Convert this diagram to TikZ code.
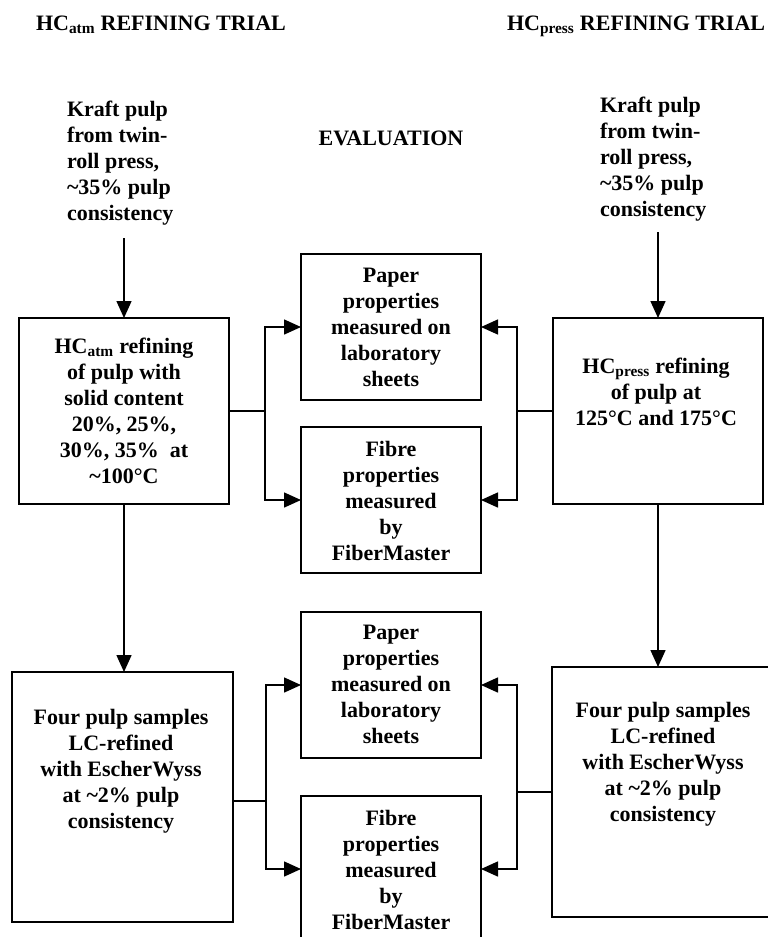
\documentclass[tikz,border=0pt]{standalone}
\usepackage{fontspec}
\setmainfont{Liberation Serif}
\usetikzlibrary{arrows.meta,calc}
\tikzset{
  box/.style={draw, line width=1.5pt, rectangle, inner sep=0pt, outer sep=0pt},
  txt/.style={font=\fontsize{22}{26}\selectfont\bfseries, inner sep=0pt, outer sep=0pt},
  ctxt/.style={txt, align=center, anchor=north},
  arr/.style={line width=1.5pt, -{Triangle[length=17pt,width=15pt]}}
}
\begin{document}
\begin{tikzpicture}[x=1pt,y=-1pt]
\useasboundingbox (0,0) rectangle (768,937);
\clip (0,0) rectangle (768,937);
% headers
\node[txt, anchor=base west] (hL) at (36,30) {HC\textsubscript{atm} REFINING TRIAL};
\node[txt, anchor=base west] (hR) at (507,30) {HC\textsubscript{press} REFINING TRIAL};
\node[txt, anchor=base] (ev) at (391,145) {EVALUATION};
% inputs
\node[txt, align=left, anchor=north west] (kL) at (67,101) {Kraft pulp\\from twin-\\roll press,\\\textasciitilde35\% pulp\\consistency};
\node[txt, align=left, anchor=north west] (kR) at (600,97) {Kraft pulp\\from twin-\\roll press,\\\textasciitilde35\% pulp\\consistency};
% boxes
\node[box, minimum width=210pt, minimum height=186pt] (tL) at (124,411) {};
\node[box, minimum width=210pt, minimum height=186pt] (tR) at (658,411) {};
\node[box, minimum width=180pt, minimum height=146pt] (pT) at (391,327) {};
\node[box, minimum width=180pt, minimum height=146pt] (fT) at (391,500) {};
\node[box, minimum width=180pt, minimum height=146pt] (pB) at (391,685) {};
\node[box, minimum width=180pt, minimum height=146pt] (fB) at (391,869) {};
\node[box, minimum width=221pt, minimum height=250pt] (bL) at (122.5,797) {};
\node[box, minimum width=228pt, minimum height=250pt] (bR) at (666,792) {};
% box texts
\node[ctxt] (tLt) at (124,338) {HC\textsubscript{atm} refining\\of pulp with\\solid content\\20\%, 25\%,\\30\%, 35\%\ \ at\\\textasciitilde100°C};
\node[ctxt] (tRt) at (656,358) {HC\textsubscript{press} refining\\of pulp at\\125°C and 175°C};
\node[ctxt] (pTt) at (391,268) {Paper\\properties\\measured on\\laboratory\\sheets};
\node[ctxt] (fTt) at (391,441) {Fibre\\properties\\measured\\by\\FiberMaster};
\node[ctxt] (pBt) at (391,625) {Paper\\properties\\measured on\\laboratory\\sheets};
\node[ctxt] (fBt) at (391,810) {Fibre\\properties\\measured\\by\\FiberMaster};
\node[ctxt] (bLt) at (121,709) {Four pulp samples\\LC-refined\\with EscherWyss\\at \textasciitilde2\% pulp\\consistency};
\node[ctxt] (bRt) at (663,702) {Four pulp samples\\LC-refined\\with EscherWyss\\at \textasciitilde2\% pulp\\consistency};
% connectors
\draw[arr, shorten <=13pt] (tL.north |- kL.south) -- (tL.north);
\draw[arr, shorten <=11pt] (tR.north |- kR.south) -- (tR.north);
\draw[arr] (tL.east) -- ++(36,0) |- (pT.west);
\draw[arr] (tL.east) -- ++(36,0) |- (fT.west);
\draw[arr] (tR.west) -- ++(-36,0) |- (pT.east);
\draw[arr] (tR.west) -- ++(-36,0) |- (fT.east);
\draw[arr] (tL.south) -- (tL.south |- bL.north);
\draw[arr] (tR.south) -- (tR.south |- bR.north);
\draw[arr] ([yshift=-4pt]bL.east) -- ++(33,0) |- (pB.west);
\draw[arr] ([yshift=-4pt]bL.east) -- ++(33,0) |- (fB.west);
\draw[arr] (bR.west) -- ++(-35,0) |- (pB.east);
\draw[arr] (bR.west) -- ++(-35,0) |- (fB.east);
\end{tikzpicture}
\end{document}
